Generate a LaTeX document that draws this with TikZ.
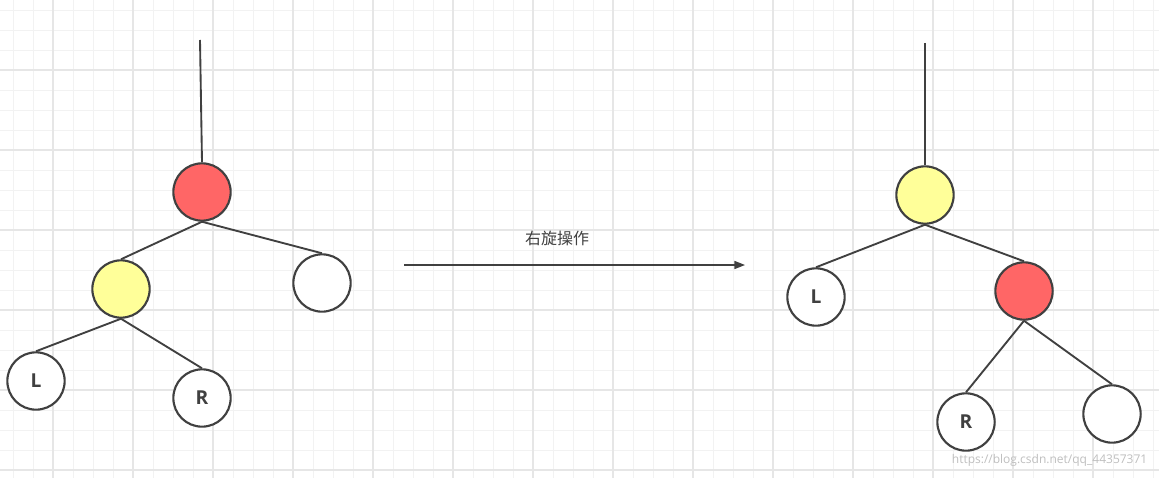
\documentclass[tikz,border=0pt]{standalone}
\usepackage{fontspec}
\setsansfont{Open Sans}
\newfontfamily\cjk{Noto Sans CJK SC}
\usetikzlibrary{arrows.meta}
\definecolor{redfill}{HTML}{FF6666}
\definecolor{yellowfill}{HTML}{FFFF99}
\definecolor{linegray}{HTML}{404040}
\definecolor{gridminor}{HTML}{F2F2F2}
\definecolor{gridmajor}{HTML}{E6E6E6}
\tikzset{
  tnode/.style = {circle, draw=linegray, line width=1.6pt, minimum size=43pt,
                  inner sep=0pt, fill=white, font=\sffamily\bfseries\Large,
                  text=linegray},
  redn/.style  = {tnode, fill=redfill},
  yeln/.style  = {tnode, fill=yellowfill},
  edge/.style  = {draw=linegray, line width=1.4pt},
  arr/.style   = {-{Triangle[length=8pt,width=6pt]}, line width=1.2pt, draw=linegray}
}
\begin{document}
\begin{tikzpicture}[x=0.75pt,y=-0.75pt]
  \useasboundingbox (0,0) rectangle (1159,478);
  \fill[white] (0,0) rectangle (1159,478);
  % grid
  \foreach \gx in {13,33,...,1159} \draw[gridminor,line width=0.6pt] (\gx,0) -- (\gx,478);
  \foreach \gy in {10,30,...,478} \draw[gridminor,line width=0.6pt] (0,\gy) -- (1159,\gy);
  \foreach \gx in {53,133,...,1159} \draw[gridmajor,line width=0.8pt] (\gx,0) -- (\gx,478);
  \foreach \gy in {70,150,...,478} \draw[gridmajor,line width=0.8pt] (0,\gy) -- (1159,\gy);

  % before rotation
  \coordinate (topa) at (200,40);
  \node[redn] (pa) at (202,192) {};
  \node[yeln] (ya) at (121,289) {};
  \node[tnode] (wa) at (322,283) {};
  \node[tnode] (la) at (36,381) {L};
  \node[tnode] (ra) at (202,398) {R};
  \draw[edge] (topa) -- (pa.north);
  \draw[edge] (pa.south) -- (ya.north);
  \draw[edge] (pa.south) -- (wa.north);
  \draw[edge] (ya.south) -- (la.north);
  \draw[edge] (ya.south) -- (ra.north);

  % arrow
  \coordinate (arrs) at (404,265);
  \coordinate (arre) at (745,265);
  \draw[arr] (arrs) -- (arre);
  \node[font=\cjk\large, text=linegray] (lbl) at (557,238) {右旋操作};

  % after rotation
  \coordinate (topb) at (925,43);
  \node[yeln] (yb) at (925,195) {};
  \node[tnode] (lb) at (816,297) {L};
  \node[redn] (pb) at (1024,291) {};
  \node[tnode] (rb) at (966,422) {R};
  \node[tnode] (wb) at (1112,414) {};
  \draw[edge] (topb) -- (yb.north);
  \draw[edge] (yb.south) -- (lb.north);
  \draw[edge] (yb.south) -- (pb.north);
  \draw[edge] (pb.south) -- (rb.north);
  \draw[edge] (pb.south) -- (wb.north);

  \node[font=\sffamily\small, text=black!25, anchor=east] (mark) at (1152,460) {https://blog.csdn.net/qq\_44357371};
\end{tikzpicture}
\end{document}
